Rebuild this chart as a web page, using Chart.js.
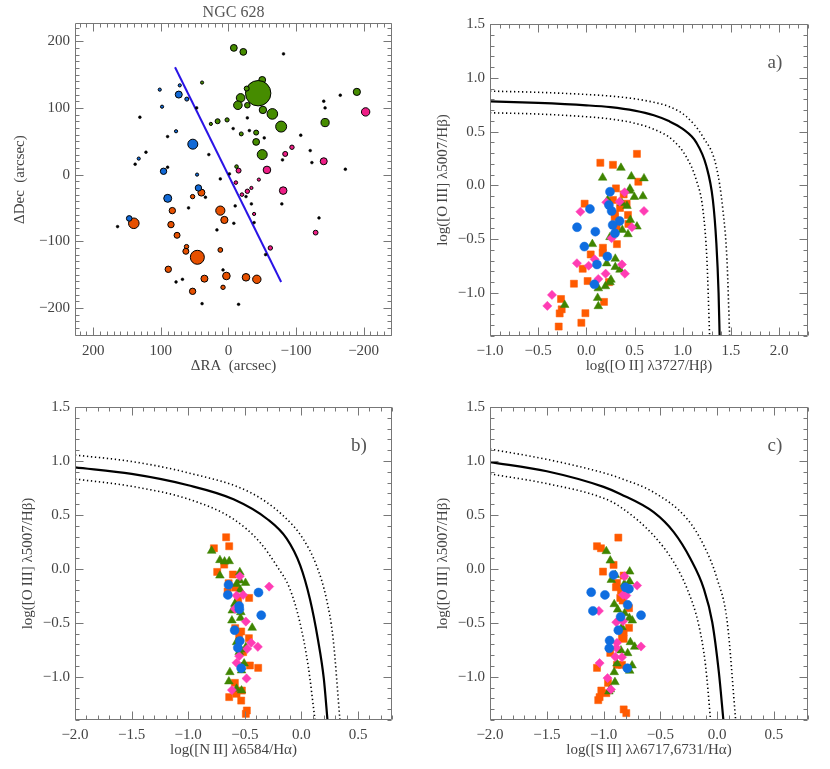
<!DOCTYPE html>
<html><head><meta charset="utf-8">
<script src="https://cdn.jsdelivr.net/npm/chart.js@4.4.1/dist/chart.umd.min.js"></script>
<style>
html,body{margin:0;padding:0;background:#fff;}
#wrap{position:relative;width:830px;height:769px;overflow:hidden;}
canvas{position:absolute;}
</style></head><body>
<div id="wrap">
<canvas id="cMap" width="415" height="385" style="left:0;top:0;width:415px;height:385px"></canvas>
<canvas id="cA" width="415" height="385" style="left:415px;top:0;width:415px;height:385px"></canvas>
<canvas id="cB" width="415" height="384" style="left:0;top:385px;width:415px;height:384px"></canvas>
<canvas id="cC" width="415" height="384" style="left:415px;top:385px;width:415px;height:384px"></canvas>
</div>
<script>
// ---------------- DATA ----------------
// Map of NGC 628 HII regions: [dRA, dDec, symbol size]
const mapGreen = [[-8,190,3.4],[-22,184,3.4],[-50,142,3.4],[-44,122,12.7],[-27,129,2.5],[-18,115,4.3],[-14,104,4.3],[-28,104,2.8],[-51,97,3.7],[-65,91,5.3],[-78,72,5.5],[-143,78,4.1],[-190,124,3.6],[-41,63,2.5],[-41,49,3.4],[-50,30,5],[-19,61,2],[16,80,2.5],[2,82,2.1],[26,76,1.6],[39,138,1.6],[-12,12,1.8]];
const mapBlue = [[73.5,120,3.5],[52.7,45.6,5],[96,5,3.2],[101.6,127.4,1.6],[72,133.8,1.6],[61.6,113.2,2],[98.2,101.8,1.6],[77.5,65,1.6],[132.7,24,1.6],[46.4,0,1.6],[44.4,-20,3.2],[89.8,-35.6,4],[146.8,-65.7,2.8]];
const mapOrange = [[40,-27,3.5],[53,-33,2.2],[83,-54,3.2],[12,-54,4.6],[6,-68,3.6],[140,-73,5.3],[85,-75,3.2],[76,-91,3],[62,-108,2.2],[63,-115,3],[46,-124,7],[12,-113,2.4],[89,-142,3.2],[35.5,-156,3.5],[3,-152,3.8],[-26,-154,3.8],[-42,-157,4.2],[53,-175,3.2],[8,-169,2.2]];
const mapPink = [[-203,94,4.2],[-94,41,2.2],[-84,31,2.5],[-141,20,3.5],[-57,7,3.8],[-15,6,2.5],[-81,-24,3.8],[-11,-12,1.8],[-20,-30,1.8],[-28,-25,2.2],[-34,-20,1.6],[-45,-7.5,1.6],[-129,-87,2.4],[-62,-110,2.2],[-38,-59,1.6]];
const mapDots = [[-81.5,181],[-165.5,119],[-141,110],[-143,100],[-107,59],[-121,36],[-123.5,18],[-173,8],[-80,22],[-53,55],[-31,66],[-7,69],[-28,85],[47,100],[131,86],[122,33.5],[138,15.5],[90,57],[90,11],[29,30],[12,-6.5],[-1.5,1],[34,-34],[59,-50],[-10,-47],[-34,-44],[-8,-73],[-38,-72],[17,-83],[164,-78],[-134,-65],[-55,-120],[8,-143],[68,-157],[77.5,-161],[39,-193.5],[-15,-194.5],[-26,-33],[-79,-44]];
const mapAxisLine = [[79,161],[-78,-161]];
const mapTicks = [200,100,0,-100,-200];

// Panel a: log([OII]3727/Hb) vs log([OIII]5007/Hb)
const aOrange = [[0.525,0.293],[0.145,0.21],[0.276,0.191],[0.539,0.034],[0.307,-0.028],[0.387,-0.084],[-0.018,-0.17],[0.276,-0.136],[0.418,-0.17],[0.349,-0.21],[0.432,-0.275],[0.297,-0.269],[0.294,-0.294],[0.314,-0.383],[0.436,-0.358],[0.317,-0.546],[0.172,-0.58],[0.169,-0.627],[0.045,-0.642],[-0.038,-0.775],[0.013,-0.889],[-0.129,-0.914],[-0.263,-1.056],[-0.256,-1.152],[-0.277,-1.19],[0.183,-1.083],[-0.01,-1.188],[-0.052,-1.277],[-0.287,-1.312],[0.235,-0.899]];
const aGreen = [[0.359,0.163],[0.169,0.071],[0.467,0.083],[0.598,0.065],[0.452,-0.031],[0.587,-0.102],[0.498,-0.108],[0.221,-0.136],[0.369,-0.164],[0.421,-0.191],[0.456,-0.321],[0.525,-0.383],[0.373,-0.414],[0.432,-0.454],[0.245,-0.481],[0.062,-0.546],[0.3,-0.682],[0.211,-0.725],[0.3,-0.759],[0.349,-0.784],[0.255,-0.877],[0.245,-0.901],[0.197,-0.938],[0.124,-0.957],[0.117,-1.046],[0.124,-1.123],[-0.225,-1.111],[0.45,-0.05]];
const aBlue = [[0.245,-0.059],[0.234,-0.182],[0.262,-0.238],[0.037,-0.219],[0.345,-0.331],[0.273,-0.368],[-0.097,-0.389],[0.093,-0.43],[0.297,-0.445],[-0.021,-0.569],[0.218,-0.661],[0.11,-0.735],[0.083,-0.92]];
const aPink = [[0.397,-0.065],[0.207,-0.157],[0.345,-0.151],[-0.062,-0.245],[0.598,-0.238],[0.473,-0.389],[0.262,-0.491],[0.086,-0.687],[-0.098,-0.724],[0.024,-0.747],[0.369,-0.735],[0.2,-0.821],[0.4,-0.821],[0.124,-0.87],[-0.357,-1.018],[-0.405,-1.12]];
const aCurve = [[-1,0.78],[-0.5,0.766],[0,0.744],[0.25,0.727],[0.5,0.695],[0.7,0.652],[0.85,0.6],[1.0,0.525],[1.14,0.4],[1.245,0.18],[1.313,-0.136],[1.349,-0.537],[1.372,-1.0],[1.383,-1.4]];
const aCurveHi = [[-1,0.876],[-0.5,0.865],[0,0.845],[0.25,0.83],[0.5,0.805],[0.7,0.772],[0.85,0.735],[1.037,0.64],[1.21,0.45],[1.349,0.172],[1.417,-0.229],[1.459,-0.69],[1.487,-1.4]];
const aCurveLo = [[-1,0.675],[-0.5,0.663],[0,0.638],[0.25,0.617],[0.5,0.578],[0.7,0.522],[0.898,0.42],[1.037,0.265],[1.141,0.049],[1.21,-0.229],[1.251,-0.69],[1.279,-1.4]];

// Panel b: log([NII]6584/Ha)
const bOrange = [[-0.665,0.293],[-0.773,0.191],[-0.638,0.21],[-0.682,0.04],[-0.744,-0.028],[-0.605,-0.052],[-0.643,-0.133],[-0.585,-0.173],[-0.652,-0.21],[-0.462,-0.269],[-0.559,-0.287],[-0.564,-0.324],[-0.585,-0.549],[-0.532,-0.58],[-0.55,-0.636],[-0.464,-0.642],[-0.515,-0.771],[-0.455,-0.895],[-0.382,-0.917],[-0.588,-1.056],[-0.638,-1.188],[-0.526,-1.127],[-0.532,-1.22],[-0.482,-1.312],[-0.491,-1.343],[-0.573,-1.157]];
const bGreen = [[-0.793,0.167],[-0.72,0.081],[-0.679,0.068],[-0.638,0.071],[-0.72,-0.062],[-0.544,-0.031],[-0.544,-0.108],[-0.494,-0.13],[-0.573,-0.139],[-0.541,-0.194],[-0.588,-0.324],[-0.611,-0.386],[-0.535,-0.401],[-0.538,-0.454],[-0.614,-0.478],[-0.435,-0.546],[-0.573,-0.679],[-0.491,-0.725],[-0.535,-0.747],[-0.55,-0.771],[-0.506,-0.877],[-0.529,-0.91],[-0.529,-0.941],[-0.632,-0.957],[-0.641,-1.043],[-0.573,-1.111],[-0.529,-1.127]];
const bBlue = [[-0.644,-0.148],[-0.65,-0.241],[-0.379,-0.219],[-0.55,-0.343],[-0.548,-0.373],[-0.355,-0.429],[-0.59,-0.568],[-0.544,-0.667],[-0.562,-0.731],[-0.532,-0.92]];
const bPink = [[-0.544,-0.068],[-0.285,-0.164],[-0.573,-0.247],[-0.515,-0.241],[-0.588,-0.37],[-0.491,-0.488],[-0.444,-0.685],[-0.385,-0.722],[-0.479,-0.741],[-0.55,-0.808],[-0.573,-0.87],[-0.485,-1.015],[-0.614,-1.123]];
const bCurve = [[-2,0.94],[-1.5,0.88],[-1.0,0.775],[-0.6,0.645],[-0.3,0.46],[-0.13,0.28],[-0.01,0.03],[0.075,-0.28],[0.145,-0.65],[0.198,-1.02],[0.23,-1.4]];
const bCurveHi = [[-2,1.055],[-1.5,0.995],[-1.0,0.89],[-0.455,0.71],[-0.162,0.494],[0.015,0.278],[0.133,0.031],[0.221,-0.278],[0.28,-0.648],[0.34,-1.4]];
const bCurveLo = [[-2,0.833],[-1.5,0.765],[-1.0,0.647],[-0.603,0.463],[-0.367,0.247],[-0.22,0.031],[-0.102,-0.185],[-0.014,-0.494],[0.059,-0.895],[0.12,-1.4]];

// Panel c: log([SII]6717,6731/Ha)
const cOrange = [[-0.87,0.29],[-1.058,0.21],[-1.023,0.191],[-0.912,0.037],[-1.005,-0.025],[-0.823,-0.062],[-0.882,-0.13],[-0.891,-0.17],[-0.847,-0.201],[-0.808,-0.231],[-0.853,-0.269],[-0.832,-0.293],[-0.776,-0.364],[-0.776,-0.546],[-0.823,-0.586],[-0.838,-0.633],[-0.823,-0.648],[-0.941,-0.778],[-0.882,-0.889],[-0.838,-0.889],[-1.058,-0.917],[-0.961,-1.056],[-1.02,-1.127],[-0.976,-1.151],[-1.047,-1.216],[-1.035,-1.188],[-0.823,-1.302],[-0.8,-1.336]];
const cGreen = [[-0.976,0.164],[-0.941,0.077],[-0.932,-0.102],[-0.897,-0.056],[-0.77,-0.025],[-0.817,-0.139],[-0.77,-0.117],[-0.785,-0.185],[-0.906,-0.327],[-0.876,-0.377],[-0.815,-0.41],[-0.773,-0.454],[-0.747,-0.478],[-0.838,-0.54],[-0.764,-0.679],[-0.726,-0.722],[-0.847,-0.756],[-0.788,-0.781],[-0.882,-0.877],[-0.749,-0.895],[-0.77,-0.944],[-0.906,-0.957],[-0.9,-1.049],[-0.941,-1.117],[-0.953,-1.136]];
const cBlue = [[-0.912,-0.056],[-1.109,-0.216],[-0.988,-0.241],[-0.776,-0.185],[-0.808,-0.17],[-0.788,-0.333],[-1.094,-0.389],[-0.85,-0.444],[-0.67,-0.429],[-0.87,-0.568],[-0.947,-0.664],[-0.95,-0.735],[-0.791,-0.92]];
const cPink = [[-0.817,-0.068],[-0.705,-0.154],[-0.829,-0.241],[-0.8,-0.247],[-1.041,-0.389],[-0.888,-0.494],[-0.829,-0.485],[-0.882,-0.685],[-0.888,-0.731],[-0.67,-0.719],[-0.897,-0.815],[-0.838,-0.818],[-1.035,-0.873],[-0.965,-1.012],[-0.935,-1.117]];
const cCurve = [[-2,0.99],[-1.5,0.905],[-1.0,0.76],[-0.853,0.694],[-0.559,0.525],[-0.382,0.34],[-0.235,0.093],[-0.117,-0.185],[-0.043,-0.494],[0.015,-0.957],[0.055,-1.4]];
const cCurveHi = [[-2,1.11],[-1.5,1.015],[-1.0,0.89],[-0.853,0.84],[-0.559,0.71],[-0.264,0.463],[-0.117,0.216],[0.0,-0.093],[0.089,-0.494],[0.163,-1.4]];
const cCurveLo = [[-2,0.88],[-1.5,0.79],[-1.0,0.655],[-0.853,0.575],[-0.559,0.309],[-0.382,0.062],[-0.264,-0.185],[-0.161,-0.525],[-0.102,-0.895],[-0.058,-1.4]];

const bptYTicks = [1.5,1.0,0.5,0.0,-0.5,-1.0];

// ---------------- STYLE ----------------
Chart.defaults.font.family = "'Liberation Serif', 'DejaVu Serif', serif";
Chart.defaults.font.size = 15;
Chart.defaults.color = '#444';
Chart.defaults.animation = false;
Chart.defaults.events = [];

const COL = {green:'#468c00', blue:'#1169d6', orange:'#e65000', pink:'#ee1e86'};
const PCOL = {green:'#3f8500', blue:'#0f6de0', orange:'#ff5a00', pink:'#ff3cb4'};
const minus = '\u2212';
const fmt1 = v => (Math.abs(v) < 1e-9 ? '0.0' : (v < 0 ? minus : '') + Math.abs(v).toFixed(1));
const fmt0 = v => (v < 0 ? minus : '') + Math.abs(v);

const boxPlugin = {
  id: 'box',
  afterDraw(chart, args, o) {
    const {ctx, chartArea: a} = chart;
    const xs = chart.scales.x, ys = chart.scales.y;
    ctx.save();
    ctx.strokeStyle = '#777';
    ctx.lineWidth = 1;
    const L = Math.round(a.left) + 0.5, R = Math.round(a.right) - 0.5;
    const T = Math.round(a.top) + 0.5, B = Math.round(a.bottom) - 0.5;
    ctx.beginPath();
    ctx.rect(L, T, R - L, B - T);
    const tk = (sc, step, len, horiz) => {
      const lo = Math.min(sc.min, sc.max), hi = Math.max(sc.min, sc.max);
      const i0 = Math.ceil(lo / step - 1e-6), i1 = Math.floor(hi / step + 1e-6);
      for (let i = i0; i <= i1; i++) {
        const p = Math.round(sc.getPixelForValue(i * step)) + 0.5;
        if (horiz) { ctx.moveTo(p, B); ctx.lineTo(p, B - len); ctx.moveTo(p, T); ctx.lineTo(p, T + len); }
        else { ctx.moveTo(L, p); ctx.lineTo(L + len, p); ctx.moveTo(R, p); ctx.lineTo(R - len, p); }
      }
    };
    tk(xs, o.xMinor, 4, true); tk(xs, o.xMajor, 8, true);
    tk(ys, o.yMinor, 4, false); tk(ys, o.yMajor, 8, false);
    ctx.stroke();
    if (o.label) {
      ctx.fillStyle = '#555';
      ctx.font = "19px 'Liberation Serif', serif";
      ctx.textAlign = 'center';
      ctx.textBaseline = 'middle';
      ctx.fillText(o.label, a.right - 33, a.top + 39);
    }
    ctx.restore();
  }
};

function xAxis(min, max, step, title, fmt, reverse) {
  return {
    type: 'linear', position: 'bottom', min, max, reverse: !!reverse,
    grid: {display: false, drawTicks: false}, border: {display: false},
    ticks: {stepSize: step, includeBounds: false, padding: 6, callback: fmt, maxRotation: 0, autoSkip: false, color: '#444'},
    title: {display: true, text: title, color: '#444', padding: {top: 0, bottom: 9.5}},
    afterFit(s) { s.height = 49; }
  };
}
function yAxis(min, max, step, title, fmt, tpad) {
  return {
    type: 'linear', position: 'left', min, max,
    grid: {display: false, drawTicks: false}, border: {display: false},
    ticks: {stepSize: step, includeBounds: false, padding: 5, callback: fmt, autoSkip: false, color: '#444'},
    title: {display: true, text: title, color: '#444', padding: {top: tpad, bottom: 0}},
    afterFit(s) { s.width = 75; }
  };
}

const pts = arr => arr.map(p => ({x: p[0], y: p[1]}));
function markerSet(arr, col, style, r) {
  return {type: 'scatter', data: pts(arr), pointStyle: style, pointRadius: r,
    backgroundColor: col, borderColor: col, borderWidth: 0.5};
}
function curve(arr, dotted) {
  return {type: 'line', data: pts(arr), showLine: true, pointRadius: 0, fill: false,
    borderColor: '#000', borderWidth: dotted ? 1.6 : 2.2, borderDash: dotted ? [1.3, 2.7] : [],
    cubicInterpolationMode: 'monotone', borderCapStyle: 'butt'};
}

// ---------------- MAP ----------------
const bub = (arr, col) => ({type: 'bubble', data: arr.map(p => ({x: p[0], y: p[1], r: p[2]})),
  backgroundColor: col, borderColor: '#000', borderWidth: 1});
new Chart(document.getElementById('cMap'), {
  type: 'bubble',
  data: {datasets: [
    bub(mapGreen, COL.green), bub(mapBlue, COL.blue), bub(mapOrange, COL.orange), bub(mapPink, COL.pink),
    {type: 'bubble', data: mapDots.map(p => ({x: p[0], y: p[1], r: 1.4})), backgroundColor: '#000', borderColor: '#000', borderWidth: 0.5},
    {type: 'line', data: pts(mapAxisLine), showLine: true, pointRadius: 0, borderColor: '#2a14e6', borderWidth: 2}
  ]},
  options: {
    responsive: false, maintainAspectRatio: false,
    layout: {padding: {left: 0, right: 23, top: 1, bottom: 0}},
    scales: {
      x: Object.assign(xAxis(-242, 227, 100, '\u0394RA  (arcsec)', fmt0, true), {afterBuildTicks(s){ s.ticks = mapTicks.map(v => ({value: v})); }}),
      y: Object.assign(yAxis(-242, 227, 100, '\u0394Dec  (arcsec)', fmt0, 11), {afterBuildTicks(s){ s.ticks = mapTicks.map(v => ({value: v})); }})
    },
    plugins: {
      legend: {display: false}, tooltip: {enabled: false},
      title: {display: true, fullSize: false, text: 'NGC 628', color: '#555', font: {size: 16, weight: 'normal'}, padding: {top: 2, bottom: 1}},
      box: {xMajor: 100, xMinor: 10, yMajor: 100, yMinor: 10}
    }
  },
  plugins: [boxPlugin]
});

// ---------------- BPT PANELS ----------------
function bpt(id, xmin, xmax, xTitle, o, g, b, p, cv, hi, lo, label, padRight, padTop) {
  new Chart(document.getElementById(id), {
    type: 'scatter',
    data: {datasets: [
      markerSet(b, PCOL.blue, 'circle', 4.5),
      markerSet(p, PCOL.pink, 'rectRot', 4.6),
      markerSet(g, PCOL.green, 'triangle', 5),
      markerSet(o, PCOL.orange, 'rect', 5),
      curve(cv, false), curve(hi, true), curve(lo, true)
    ]},
    options: {
      responsive: false, maintainAspectRatio: false,
      layout: {padding: {left: 0, right: padRight, top: padTop, bottom: 0}},
      scales: {
        x: xAxis(xmin, xmax, 0.5, xTitle, fmt1, false),
        y: Object.assign(yAxis(-1.4, 1.5, 0.5, 'log([O\u2009III] \u03bb5007/H\u03b2)', fmt1, 19), {afterBuildTicks(s){ s.ticks = bptYTicks.map(v => ({value: v})); }})
      },
      plugins: {
        legend: {display: false}, tooltip: {enabled: false},
        box: {xMajor: 0.5, xMinor: 0.1, yMajor: 0.5, yMinor: 0.1, label}
      }
    },
    plugins: [boxPlugin]
  });
}
bpt('cA', -1.0, 2.3, 'log([O\u2009II] \u03bb3727/H\u03b2)', aOrange, aGreen, aBlue, aPink, aCurve, aCurveHi, aCurveLo, 'a)', 22, 24);
bpt('cB', -2.0, 0.8, 'log([N\u2009II] \u03bb6584/H\u03b1)', bOrange, bGreen, bBlue, bPink, bCurve, bCurveHi, bCurveLo, 'b)', 23, 22);
bpt('cC', -2.0, 0.8, 'log([S\u2009II] \u03bb\u03bb6717,6731/H\u03b1)', cOrange, cGreen, cBlue, cPink, cCurve, cCurveHi, cCurveLo, 'c)', 22, 22);
</script>
</body></html>
